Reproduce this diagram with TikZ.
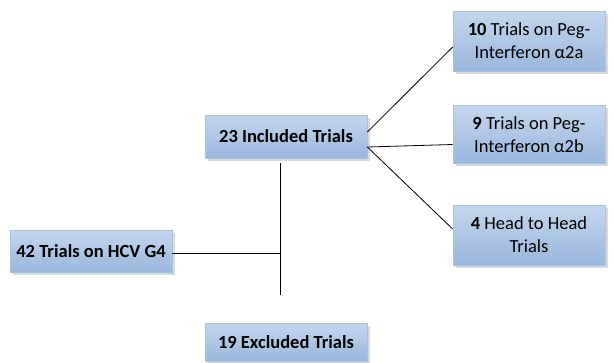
\documentclass[tikz,border=0pt]{standalone}
\usepackage{fontspec}
\setmainfont{Carlito}
\usepackage{xcolor}
\usetikzlibrary{positioning, shadows}

\definecolor{boxedge}{HTML}{A9C1E0}
\definecolor{boxtop}{HTML}{C4D6EE}
\definecolor{boxmid}{HTML}{E0E9F5}
\definecolor{boxbot}{HTML}{9AB7DC}

\tikzset{
    trialbox/.style={draw=boxedge, line width=0.6pt, top color=boxtop, middle color=boxmid, bottom color=boxbot,
        inner sep=2pt, align=center, text=black, font=\fontsize{18.5}{23}\selectfont,
        drop shadow={shadow xshift=2.5pt, shadow yshift=-2.5pt, opacity=0.3, fill=gray}},
    link/.style={draw=black, line width=0.8pt}
}

\begin{document}
\begin{tikzpicture}[x=1pt,y=-1pt]
    \useasboundingbox (0,0) rectangle (614,362);

    % boxes
    \node[trialbox, minimum width=162pt, minimum height=42pt] (g4) at (91,251) {\textbf{42 Trials on HCV G4}};
    \node[trialbox, minimum width=162pt, minimum height=43pt] (inc) at (286,136.5) {\textbf{23 Included Trials}};
    \node[trialbox, minimum width=162pt, minimum height=38pt] (exc) at (286,342) {\textbf{19 Excluded Trials}};
    \node[trialbox, minimum width=152pt, minimum height=60pt] (pa) at (529,41) {\textbf{10} Trials on Peg-\\Interferon α2a};
    \node[trialbox, minimum width=152pt, minimum height=58pt] (pb) at (529,134.5) {\textbf{9} Trials on Peg-\\Interferon α2b};
    \node[trialbox, minimum width=152pt, minimum height=60pt] (hh) at (529,235) {\textbf{4} Head to Head\\Trials};

    % stem between included and excluded
    \coordinate (stemtop) at (280,163);
    \coordinate (stembot) at (280,295);
    \coordinate (joint) at (280,253);
    \draw[link] (stemtop) -- (stembot);
    \draw[link] (g4.east |- joint) -- (joint);

    % branches to the right
    \coordinate (outa) at ([yshift=4.5pt]inc.east);
    \coordinate (outb) at ([yshift=-10.5pt]inc.east);
    \draw[link] (outa) -- ([yshift=-6pt]pa.west);
    \draw[link] (outb) -- ([yshift=-10pt]pb.west);
    \draw[link] (outb) -- ([yshift=6pt]hh.west);
\end{tikzpicture}
\end{document}
